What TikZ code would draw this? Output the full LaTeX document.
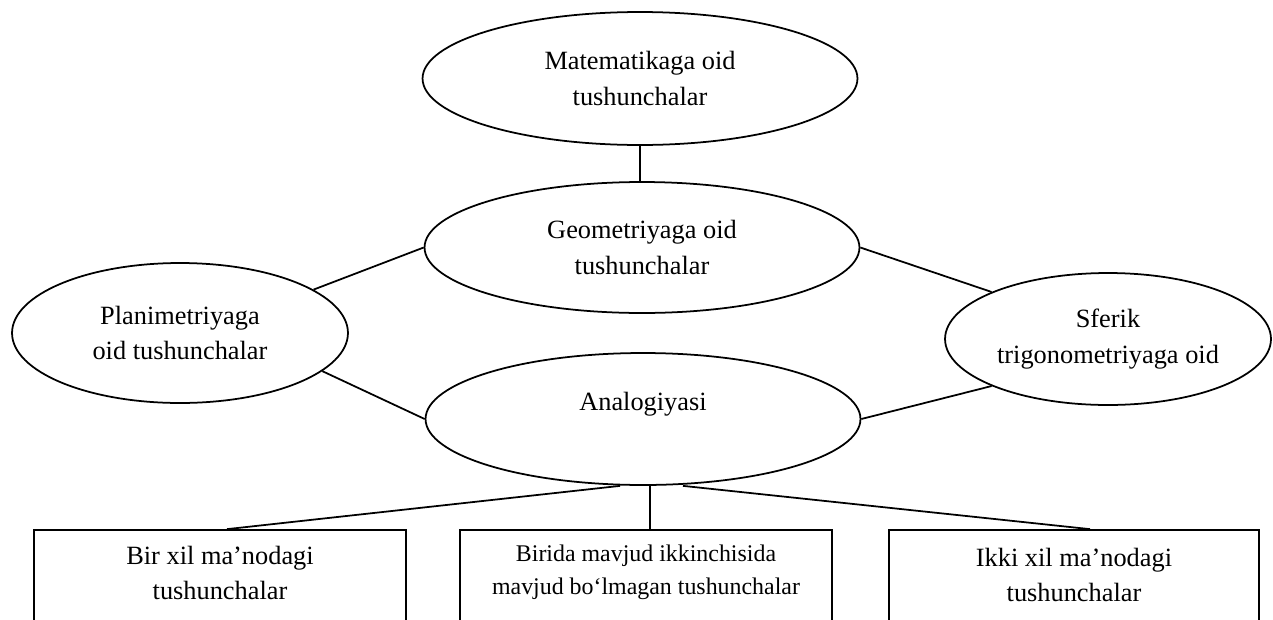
\documentclass[tikz,border=0pt]{standalone}
\usepackage{fontspec}
\setmainfont{Liberation Serif}
\usetikzlibrary{shapes.geometric,calc}
\begin{document}
\begin{tikzpicture}[x=0.02cm,y=-0.02cm,
  ell/.style={draw, ellipse, line width=1pt, inner sep=0pt, align=center, font=\fontsize{15}{20.3}\selectfont},
  boxst/.style={draw, rectangle, line width=1pt, minimum width=7.44cm, minimum height=4cm, inner sep=0pt},
  txt/.style={align=center, inner sep=0pt, font=\fontsize{15}{20.3}\selectfont},
  smalltxt/.style={align=center, inner sep=0pt, font=\fontsize{13.6}{18.8}\selectfont},
  conn/.style={line width=1pt}]
\useasboundingbox (0,0) rectangle (1273,619);
\clip (0,0) rectangle (1273,619);
% ellipses
\node[ell, minimum width=8.7cm, minimum height=2.66cm] (mat) at (640,78.5) {Matematikaga oid\\tushunchalar};
\node[ell, minimum width=8.7cm, minimum height=2.62cm] (geo) at (642,247.5) {Geometriyaga oid\\tushunchalar};
\node[ell, minimum width=8.7cm, minimum height=2.64cm] (ana) at (643,419) {Analogiyasi\\\mbox{}};
\node[ell, minimum width=6.72cm, minimum height=2.8cm] (plan) at (180,333) {Planimetriyaga\\oid tushunchalar};
\node[ell, inner xsep=-2pt, minimum width=6.52cm, minimum height=2.64cm] (sfer) at (1108,339) {Sferik\\trigonometriyaga oid};
% boxes
\node[boxst] (b1) at (220,630) {};
\node[boxst] (b2) at (646,630) {};
\node[boxst, minimum width=7.4cm] (b3) at (1074,630) {};
\node[txt] (b1t) at (220,573) {Bir xil ma’nodagi\\tushunchalar};
\node[smalltxt] (b2t) at (646,572) {Birida mavjud ikkinchisida\\mavjud bo‘lmagan tushunchalar};
\node[txt] (b3t) at (1074,575) {Ikki xil ma’nodagi\\tushunchalar};
% connectors
\draw[conn] (mat.south) -- (mat.south |- geo.north);
\draw[conn] (geo.west) -- (plan.18);
\draw[conn] (ana.west) -- (plan.-15);
\draw[conn] (geo.east) -- (sfer.158);
\draw[conn] (ana.east) -- (sfer.202);
\draw[conn] ($(ana.south)+(-23,0)$) -- ($(b1.north)+(7,0)$);
\draw[conn] ($(ana.south)+(7,0)$) -- ($(b2.north)+(4,0)$);
\draw[conn] ($(ana.south)+(40,0)$) -- ($(b3.north)+(16,0)$);
\end{tikzpicture}
\end{document}
